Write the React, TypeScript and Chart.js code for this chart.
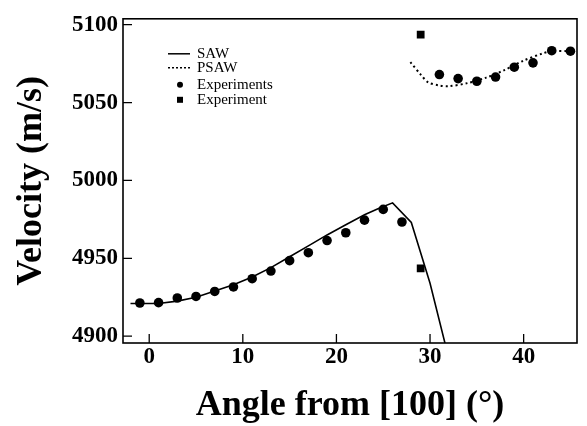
import React, { useEffect, useRef } from "react";
import { Chart, registerables } from "chart.js";

Chart.register(...registerables);

// SAW theory curve
const sawAngle = [-2, 1, 3, 5, 7, 9, 11, 13, 15, 17, 19, 21, 23, 24.5, 26, 28, 30, 31.7];
const sawVelocity = [4921, 4921, 4922.5, 4925, 4929, 4933, 4938, 4944, 4951, 4958, 4965, 4971.5, 4978, 4982, 4985.6, 4973, 4934, 4893];

// PSAW theory curve
const psawAngle = [27.9, 29, 29.8, 31, 32, 34, 36, 38, 40, 42, 43, 45];
const psawVelocity = [5076, 5068, 5063, 5061, 5060.5, 5062.5, 5066, 5071, 5077, 5081.5, 5083, 5083];

// Experiments (circles)
const expAngle = [-1, 1, 3, 5, 7, 9, 11, 13, 15, 17, 19, 21, 23, 25, 27, 31, 33, 35, 37, 39, 41, 43, 45];
const expVelocity = [4921.3, 4921.5, 4924.5, 4925.5, 4928.7, 4931.6, 4936.9, 4941.8, 4948.5, 4953.6, 4961.4, 4966.4, 4974.5, 4981.4, 4973.3, 5068, 5065.4, 5063.7, 5066.4, 5072.7, 5075.5, 5083.3, 5083];

// Experiment (squares)
const exp2Angle = [29, 29];
const exp2Velocity = [5093.6, 4943.5];

const xTicks = [0, 10, 20, 30, 40];
const yTicks = [4900, 4950, 5000, 5050, 5100];

const legendLabels = ["SAW", "PSAW", "Experiments", "Experiment"];

const pts = (xs: number[], ys: number[]) => xs.map((x, i) => ({ x, y: ys[i] }));

const SERIF = "'Liberation Serif', 'Times New Roman', serif";

const framePlugin = {
  id: "frameTicks",
  afterDraw(chart: any) {
    const { ctx, chartArea } = chart;
    const { left, right, top, bottom } = chartArea;
    const xs = chart.scales.x;
    const ys = chart.scales.y;
    ctx.save();
    ctx.strokeStyle = "#000";
    ctx.lineWidth = 1.6;
    ctx.strokeRect(left, top, right - left, bottom - top);
    ctx.lineWidth = 1.3;
    ctx.beginPath();
    xTicks.forEach((v) => {
      const px = xs.getPixelForValue(v);
      ctx.moveTo(px, bottom);
      ctx.lineTo(px, bottom - 9);
    });
    yTicks.forEach((v) => {
      const py = ys.getPixelForValue(v);
      ctx.moveTo(left, py);
      ctx.lineTo(left + 9, py);
    });
    ctx.stroke();

    // legend
    const lx = left + 45;
    const rows = [top + 35, top + 49, top + 66, top + 81];
    const tx = left + 74;
    ctx.fillStyle = "#000";
    ctx.lineWidth = 1.5;
    ctx.beginPath();
    ctx.moveTo(lx, rows[0]);
    ctx.lineTo(lx + 22, rows[0]);
    ctx.stroke();
    ctx.setLineDash([2, 2]);
    ctx.beginPath();
    ctx.moveTo(lx, rows[1]);
    ctx.lineTo(lx + 22, rows[1]);
    ctx.stroke();
    ctx.setLineDash([]);
    ctx.beginPath();
    ctx.arc(lx + 12, rows[2], 3, 0, Math.PI * 2);
    ctx.fill();
    ctx.fillRect(lx + 9, rows[3] - 3, 6, 6);
    ctx.font = "15px " + SERIF;
    ctx.textBaseline = "middle";
    ctx.textAlign = "left";
    legendLabels.forEach((t, i) => ctx.fillText(t, tx, rows[i]));
    ctx.restore();
  },
};

export default function App() {
  const ref = useRef<HTMLCanvasElement | null>(null);
  useEffect(() => {
    if (!ref.current) return;
    const chart = new Chart(ref.current, {
      type: "scatter",
      data: {
        datasets: [
          {
            label: "SAW",
            data: pts(sawAngle, sawVelocity),
            showLine: true,
            borderColor: "#000",
            borderWidth: 1.6,
            pointRadius: 0,
            tension: 0,
          },
          {
            label: "PSAW",
            data: pts(psawAngle, psawVelocity),
            showLine: true,
            borderColor: "#000",
            borderWidth: 2,
            borderDash: [2, 3],
            pointRadius: 0,
            tension: 0.3,
          },
          {
            label: "Experiments",
            data: pts(expAngle, expVelocity),
            showLine: false,
            pointStyle: "circle",
            pointRadius: 4.8,
            backgroundColor: "#000",
            borderColor: "#000",
            borderWidth: 0,
          },
          {
            label: "Experiment",
            data: pts(exp2Angle, exp2Velocity),
            showLine: false,
            pointStyle: "rect",
            pointRadius: 5.5,
            backgroundColor: "#000",
            borderColor: "#000",
            borderWidth: 0,
          },
        ],
      },
      options: {
        animation: false,
        responsive: false,
        maintainAspectRatio: false,
        layout: { padding: { top: 14, right: 10, left: 0, bottom: 0 } },
        plugins: { legend: { display: false }, tooltip: { enabled: false } },
        scales: {
          x: {
            type: "linear",
            min: -2.8,
            max: 45.7,
            grid: { display: false, drawTicks: false },
            border: { display: false },
            afterBuildTicks: (s: any) => {
              s.ticks = xTicks.map((v) => ({ value: v }));
            },
            afterFit: (s: any) => {
              s.height = 83;
            },
            ticks: {
              padding: 0,
              color: "#000",
              font: { family: SERIF, size: 23, weight: "bold" },
              maxRotation: 0,
              callback: (v: any) => String(v),
            },
            title: {
              display: true,
              text: "Angle from [100] (°)",
              color: "#000",
              font: { family: SERIF, size: 36, weight: "bold", lineHeight: 1.15 },
              padding: { top: 0, bottom: 0 },
            },
          },
          y: {
            type: "linear",
            min: 4895.6,
            max: 5103.8,
            grid: { display: false, drawTicks: false },
            border: { display: false },
            afterBuildTicks: (s: any) => {
              s.ticks = yTicks.map((v) => ({ value: v }));
            },
            afterFit: (s: any) => {
              s.width = 123;
            },
            ticks: {
              padding: 5,
              color: "#000",
              font: { family: SERIF, size: 23, weight: "bold" },
              callback: (v: any) => String(v),
            },
            title: {
              display: true,
              text: "Velocity (m/s)",
              color: "#000",
              font: { family: SERIF, size: 36, weight: "bold", lineHeight: 1.2 },
              padding: { top: 10, bottom: 0 },
            },
          },
        },
      },
      plugins: [framePlugin],
    } as any);
    return () => chart.destroy();
  }, []);
  return (
    <div style={{ position: "fixed", left: 0, top: 0, width: 587, height: 426, background: "#fff" }}>
      <canvas ref={ref} width={587} height={426} style={{ width: 587, height: 426, display: "block" }} />
    </div>
  );
}
